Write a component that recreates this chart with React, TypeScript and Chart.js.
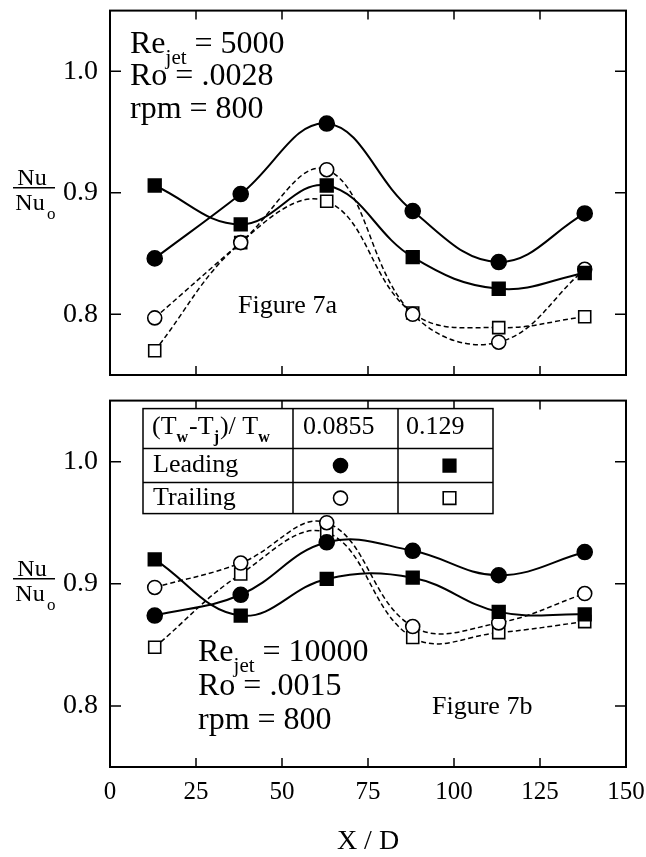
import React, { useEffect, useRef } from 'react';
import { Chart, registerables } from 'chart.js';

Chart.register(...registerables);

// ---------- data ----------
const xPositions = [13, 38, 63, 88, 113, 138];
const xTickValues = [0, 25, 50, 75, 100, 125, 150];
const yTickValues = [0.8, 0.9, 1.0];

// Figure 7a (Re_jet = 5000)
const topLeading0855 = [0.846, 0.899, 0.957, 0.885, 0.843, 0.883];
const topLeading129 = [0.906, 0.874, 0.906, 0.847, 0.821, 0.834];
const topTrailing0855 = [0.797, 0.859, 0.919, 0.8, 0.777, 0.837];
const topTrailing129 = [0.77, 0.859, 0.893, 0.801, 0.789, 0.798];

// Figure 7b (Re_jet = 10000)
const botLeading0855 = [0.874, 0.891, 0.934, 0.927, 0.907, 0.926];
const botLeading129 = [0.92, 0.874, 0.904, 0.905, 0.877, 0.875];
const botTrailing0855 = [0.897, 0.917, 0.95, 0.865, 0.868, 0.892];
const botTrailing129 = [0.848, 0.908, 0.942, 0.856, 0.86, 0.869];

const topParams = ['5000', '.0028', '800'];
const botParams = ['10000', '.0015', '800'];
const tableRatios = ['0.0855', '0.129'];
const tableRows = ['Leading', 'Trailing'];

const FAMILY = '"Liberation Serif", "Times New Roman", serif';
const font = (size: number) => `${size}px ${FAMILY}`;

type Style = { kind: 'circle' | 'rect'; filled: boolean };
const styles: Style[] = [
  { kind: 'circle', filled: true },
  { kind: 'rect', filled: true },
  { kind: 'circle', filled: false },
  { kind: 'rect', filled: false },
];

function makeDatasets(series: number[][]) {
  return series.map((vals, i) => {
    const st = styles[i];
    return {
      data: xPositions.map((x, k) => ({ x, y: vals[k] })),
      borderColor: '#000',
      borderWidth: st.filled ? 2 : 1.5,
      borderDash: st.filled ? [] : [5, 3],
      tension: 0.4,
      pointStyle: st.kind,
      pointRadius: st.kind === 'circle' ? (st.filled ? 7.5 : 7) : st.filled ? 9 : 8.5,
      pointBackgroundColor: st.filled ? '#000' : '#fff',
      pointBorderColor: '#000',
      pointBorderWidth: 1.6,
      fill: false,
    };
  });
}

function drawMarker(ctx: CanvasRenderingContext2D, st: Style, x: number, y: number) {
  ctx.save();
  ctx.lineWidth = 1.6;
  ctx.strokeStyle = '#000';
  ctx.fillStyle = st.filled ? '#000' : '#fff';
  ctx.beginPath();
  if (st.kind === 'circle') {
    ctx.arc(x, y, 7, 0, Math.PI * 2);
  } else {
    ctx.rect(x - 6.3, y - 6.3, 12.6, 12.6);
  }
  ctx.fill();
  ctx.stroke();
  ctx.restore();
}

function drawParamsText(ctx: CanvasRenderingContext2D, x: number, y: number, gap: number, vals: string[]) {
  ctx.save();
  ctx.fillStyle = '#000';
  ctx.textAlign = 'left';
  ctx.textBaseline = 'alphabetic';
  ctx.font = font(32);
  ctx.fillText('Re', x, y);
  const wRe = ctx.measureText('Re').width;
  ctx.font = font(21);
  ctx.fillText('jet', x + wRe, y + 11);
  const wJet = ctx.measureText('jet').width;
  ctx.font = font(32);
  ctx.fillText(' = ' + vals[0], x + wRe + wJet, y);
  ctx.fillText('Ro = ' + vals[1], x, y + gap);
  ctx.fillText('rpm = ' + vals[2], x, y + 2 * gap);
  ctx.restore();
}

function makeFramePlugin(kind: 'top' | 'bottom') {
  return {
    id: 'frame_' + kind,
    afterDraw(chart: any) {
      const ctx: CanvasRenderingContext2D = chart.ctx;
      const { left, right, top, bottom } = chart.chartArea;
      const xs = chart.scales.x;
      const ys = chart.scales.y;
      ctx.save();
      ctx.strokeStyle = '#000';
      ctx.setLineDash([]);
      ctx.lineWidth = 2;
      ctx.strokeRect(left, top, right - left, bottom - top);
      ctx.lineWidth = 1.5;
      ctx.beginPath();
      xTickValues.forEach((v) => {
        if (v <= xs.min || v >= xs.max) return;
        const px = xs.getPixelForValue(v);
        ctx.moveTo(px, top);
        ctx.lineTo(px, top + 9);
        ctx.moveTo(px, bottom);
        ctx.lineTo(px, bottom - 9);
      });
      yTickValues.forEach((v) => {
        const py = ys.getPixelForValue(v);
        ctx.moveTo(left, py);
        ctx.lineTo(left + 11, py);
        ctx.moveTo(right, py);
        ctx.lineTo(right - 11, py);
      });
      ctx.stroke();

      // Nu / Nu_o label
      const py = ys.getPixelForValue(0.9);
      ctx.fillStyle = '#000';
      ctx.font = font(24);
      ctx.textAlign = 'center';
      ctx.textBaseline = 'alphabetic';
      ctx.fillText('Nu', 32, py - 8);
      ctx.beginPath();
      ctx.lineWidth = 1.5;
      ctx.moveTo(13, py - 5);
      ctx.lineTo(55, py - 5);
      ctx.stroke();
      ctx.fillText('Nu', 30, py + 17);
      ctx.font = font(17);
      ctx.textAlign = 'left';
      ctx.fillText('o', 47, py + 26);

      if (kind === 'top') {
        drawParamsText(ctx, left + 20, top + 42, 32.5, topParams);
        ctx.font = font(26);
        ctx.textAlign = 'left';
        ctx.fillText('Figure 7a', left + 128, top + 302);
      } else {
        drawParamsText(ctx, left + 88, top + 260, 34, botParams);
        ctx.font = font(26);
        ctx.textAlign = 'left';
        ctx.fillText('Figure 7b', left + 322, top + 313);

        // legend table
        const tx0 = left + 33;
        const tx1 = left + 183;
        const tx2 = left + 288;
        const tx3 = left + 383;
        const ty0 = top + 8;
        const ty1 = top + 48;
        const ty2 = top + 82;
        const ty3 = top + 113;
        ctx.fillStyle = '#fff';
        ctx.fillRect(tx0, ty0, tx3 - tx0, ty3 - ty0);
        ctx.strokeStyle = '#000';
        ctx.lineWidth = 1.5;
        ctx.strokeRect(tx0, ty0, tx3 - tx0, ty3 - ty0);
        ctx.beginPath();
        ctx.moveTo(tx0, ty1);
        ctx.lineTo(tx3, ty1);
        ctx.moveTo(tx0, ty2);
        ctx.lineTo(tx3, ty2);
        ctx.moveTo(tx1, ty0);
        ctx.lineTo(tx1, ty3);
        ctx.moveTo(tx2, ty0);
        ctx.lineTo(tx2, ty3);
        ctx.stroke();

        ctx.fillStyle = '#000';
        ctx.textAlign = 'left';
        // header: (T_w - T_j)/ T_w
        let cx = tx0 + 9;
        const by = ty0 + 25;
        const parts: [string, boolean][] = [
          ['(T', false],
          ['w', true],
          ['-T', false],
          ['j', true],
          [')/ T', false],
          ['w', true],
        ];
        parts.forEach(([t, sub]) => {
          ctx.font = sub ? 'bold ' + font(16) : font(26);
          ctx.fillText(t, cx, sub ? by + 8 : by);
          cx += ctx.measureText(t).width + (sub ? 1 : 0);
        });
        ctx.font = font(26);
        ctx.fillText(tableRatios[0], tx1 + 10, by);
        ctx.fillText(tableRatios[1], tx2 + 8, by);
        ctx.fillText(tableRows[0], tx0 + 10, top + 71);
        ctx.fillText(tableRows[1], tx0 + 10, top + 104);

        drawMarker(ctx, styles[0], (tx1 + tx2) / 2 - 5, (ty1 + ty2) / 2);
        drawMarker(ctx, styles[1], (tx2 + tx3) / 2 + 4, (ty1 + ty2) / 2);
        drawMarker(ctx, styles[2], (tx1 + tx2) / 2 - 5, (ty2 + ty3) / 2);
        drawMarker(ctx, styles[3], (tx2 + tx3) / 2 + 4, (ty2 + ty3) / 2);
      }
      ctx.restore();
    },
  };
}

function makeConfig(kind: 'top' | 'bottom', series: number[][]): any {
  const isBottom = kind === 'bottom';
  return {
    type: 'line',
    data: { datasets: makeDatasets(series) },
    options: {
      animation: false,
      responsive: false,
      devicePixelRatio: 1,
      layout: { padding: { top: isBottom ? 10 : 8, right: 20, left: 0, bottom: 0 } },
      plugins: { legend: { display: false }, tooltip: { enabled: false } },
      scales: {
        x: {
          type: 'linear',
          min: 0,
          max: 150,
          grid: { display: false, drawTicks: false },
          border: { display: false },
          afterBuildTicks: (s: any) => {
            s.ticks = xTickValues.map((v) => ({ value: v }));
          },
          afterFit: (s: any) => {
            s.height = isBottom ? 90 : 15;
            s.paddingLeft = 0;
            s.paddingRight = 0;
            s.paddingTop = 0;
            s.paddingBottom = 0;
          },
          ticks: {
            display: isBottom,
            autoSkip: false,
            maxRotation: 0,
            padding: 10,
            color: '#000',
            font: { family: FAMILY, size: 25 },
            callback: (v: any) => String(v),
          },
          title: {
            display: isBottom,
            text: 'X / D',
            color: '#000',
            font: { family: FAMILY, size: 28, lineHeight: 1 },
            padding: { top: 0, bottom: 1 },
          },
        },
        y: {
          type: 'linear',
          min: 0.75,
          max: 1.05,
          grid: { display: false, drawTicks: false },
          border: { display: false },
          afterBuildTicks: (s: any) => {
            s.ticks = yTickValues.map((v) => ({ value: v }));
          },
          afterFit: (s: any) => {
            s.width = 110;
            s.paddingLeft = 0;
            s.paddingRight = 0;
            s.paddingTop = 0;
            s.paddingBottom = 0;
          },
          ticks: {
            padding: 12,
            color: '#000',
            font: { family: FAMILY, size: 28 },
            callback: (v: any) => Number(v).toFixed(1),
          },
        },
      },
    },
    plugins: [makeFramePlugin(kind)],
  };
}

export default function App() {
  const topRef = useRef<HTMLCanvasElement>(null);
  const botRef = useRef<HTMLCanvasElement>(null);

  useEffect(() => {
    const c1 = new Chart(
      topRef.current as HTMLCanvasElement,
      makeConfig('top', [topLeading0855, topLeading129, topTrailing0855, topTrailing129])
    );
    const c2 = new Chart(
      botRef.current as HTMLCanvasElement,
      makeConfig('bottom', [botLeading0855, botLeading129, botTrailing0855, botTrailing129])
    );
    return () => {
      c1.destroy();
      c2.destroy();
    };
  }, []);

  return (
    <div style={{ position: 'absolute', left: 0, top: 0, width: 646, height: 857, background: '#fff' }}>
      <canvas
        ref={topRef}
        width={646}
        height={390}
        style={{ position: 'absolute', left: 0, top: 0, width: 646, height: 390, display: 'block' }}
      />
      <canvas
        ref={botRef}
        width={646}
        height={467}
        style={{ position: 'absolute', left: 0, top: 390, width: 646, height: 467, display: 'block' }}
      />
    </div>
  );
}
